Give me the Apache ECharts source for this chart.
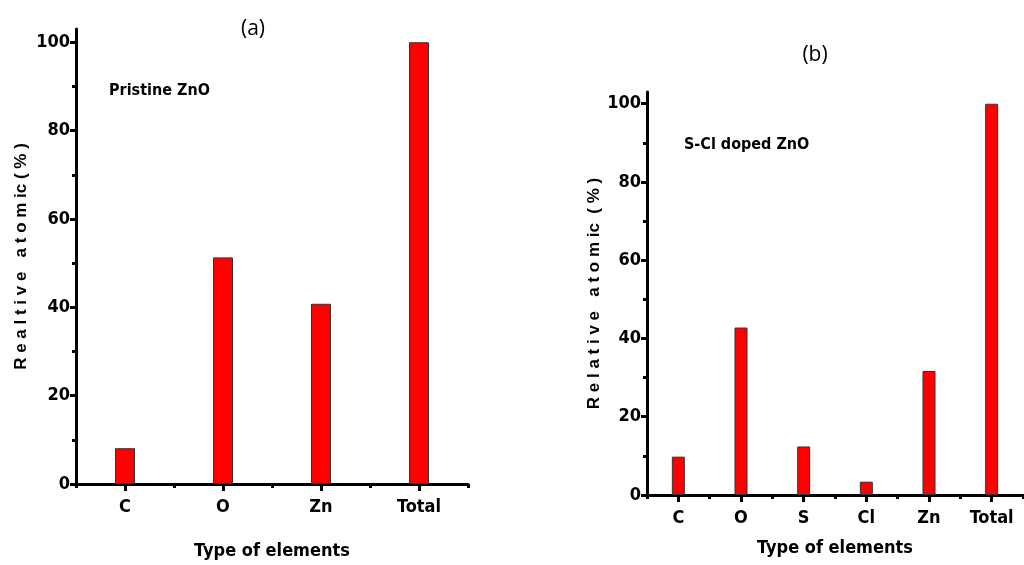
<!DOCTYPE html>
<html><head><meta charset="utf-8">
<script src="https://cdn.jsdelivr.net/npm/echarts@6/dist/echarts.min.js"></script>
<style>html,body{margin:0;padding:0;background:#fff}#c{width:1024px;height:565px}</style>
</head><body><div id="c"></div>
<script>
const catsA = ['C', 'O', 'Zn', 'Total'];
const valsA = [8.1, 51.3, 40.8, 100];
const catsB = ['C', 'O', 'S', 'Cl', 'Zn', 'Total'];
const valsB = [9.8, 42.8, 12.4, 3.4, 31.7, 100];
const majorTicks = [0, 20, 40, 60, 80, 100];
const minorTicks = [10, 30, 50, 70, 90];

const NARROW = "'Liberation Sans Narrow','DejaVu Sans Condensed',sans-serif";
const chart = echarts.init(document.getElementById('c'));
const lineStyle = { color: '#000', width: 3 };

function yMain(grid, name, gap) {
  return {
    type: 'value', gridIndex: grid, min: 0, max: 103,
    axisLine: { show: true, lineStyle },
    axisTick: { show: true, customValues: majorTicks, length: 6, lineStyle: { color: '#000', width: 3 } },
    axisLabel: { customValues: majorTicks, color: '#000', fontFamily: NARROW, fontWeight: 'bold', fontSize: 18, margin: 6 },
    splitLine: { show: false },
    name, nameLocation: 'middle', nameGap: gap, nameRotate: 90,
    nameTextStyle: { color: '#000', fontFamily: "'Liberation Sans',Arial,sans-serif", fontWeight: 'bold', fontSize: 17 }
  };
}
function yMinor(grid) {
  return {
    type: 'value', gridIndex: grid, min: 0, max: 103, position: 'left',
    axisLine: { show: false },
    axisTick: { show: true, customValues: minorTicks, length: 4, lineStyle: { color: '#000', width: 3 } },
    axisLabel: { show: false }, splitLine: { show: false }
  };
}
function xMain(grid, cats, gap) {
  return {
    type: 'category', gridIndex: grid, data: cats,
    axisLine: { show: true, lineStyle },
    axisTick: { show: true, alignWithLabel: true, length: 7, lineStyle: { color: '#000', width: 3 } },
    axisLabel: { color: '#000', fontFamily: NARROW, fontWeight: 'bold', fontSize: 18, margin: 14 },
    name: 'Type of elements', nameLocation: 'middle', nameGap: gap,
    nameTextStyle: { color: '#000', fontFamily: NARROW, fontWeight: 'bold', fontSize: 18 }
  };
}
function xMinor(grid, n) {
  return {
    type: 'value', gridIndex: grid, min: 0, max: n, interval: 1, position: 'bottom',
    axisLine: { show: false },
    axisTick: { show: true, length: 4, lineStyle: { color: '#000', width: 3 } },
    axisLabel: { show: false }, splitLine: { show: false }
  };
}

chart.setOption({
  animation: false,
  backgroundColor: '#fff',
  title: [
    { text: '(a)', left: 248, top: 24, textAlign: 'center', textVerticalAlign: 'middle',
      textStyle: { fontFamily: "'Open Sans',sans-serif", fontWeight: 'normal', fontSize: 21, color: '#000' } },
    { text: '(b)', left: 810, top: 50, textAlign: 'center', textVerticalAlign: 'middle',
      textStyle: { fontFamily: "'Open Sans',sans-serif", fontWeight: 'normal', fontSize: 21, color: '#000' } },
    { text: 'Pristine ZnO', left: 104, top: 78,
      textStyle: { fontFamily: NARROW, fontWeight: 'bold', fontSize: 16, color: '#000' } },
    { text: 'S-Cl doped ZnO', left: 679, top: 132,
      textStyle: { fontFamily: NARROW, fontWeight: 'bold', fontSize: 16, color: '#000' } }
  ],
  grid: [
    { left: 76, top: 29, width: 392, height: 455 },
    { left: 647, top: 92, width: 376, height: 403 }
  ],
  xAxis: [xMain(0, catsA, 58), xMinor(0, 4), xMain(1, catsB, 44), xMinor(1, 6)],
  yAxis: [yMain(0, 'R e a l t i v e   a t o m ic ( % )', 46), yMinor(0),
          yMain(1, 'R e l a t i v e   a t o m ic  ( % )', 40), yMinor(1)],
  series: [
    { type: 'bar', xAxisIndex: 0, yAxisIndex: 0, data: valsA, barWidth: 20,
      itemStyle: { color: '#ff0000', borderColor: '#333', borderWidth: 1 } },
    { type: 'bar', xAxisIndex: 2, yAxisIndex: 2, data: valsB, barWidth: 13,
      itemStyle: { color: '#ff0000', borderColor: '#333', borderWidth: 1 } }
  ]
});
</script></body></html>
